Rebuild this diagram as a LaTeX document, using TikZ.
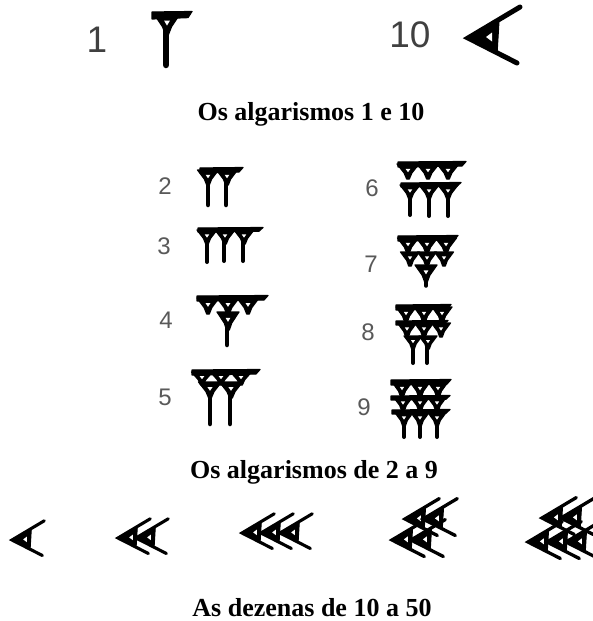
\documentclass[tikz,border=0pt]{standalone}
\usepackage{fontspec}
\setmainfont{Liberation Serif}
\newfontfamily\labfont{Liberation Sans}
\tikzset{ink/.style={fill=black,draw=black,line width=1.2pt,line join=round}}
% x y halfwidth depth
\newcommand\cwHead[4]{%
  \path[ink] (#1-#3,#2) -- (#1+#3,#2) -- (#1+0.35*#3,#2+0.6*#4) -- (#1+1.3,#2+#4) -- (#1-1.3,#2+#4) -- (#1-0.35*#3,#2+0.6*#4) -- cycle;
  \fill[white] (#1-0.22*#3,#2+0.32*#4) -- (#1+0.22*#3,#2+0.32*#4) -- (#1,#2+0.55*#4) -- cycle;}
% x1 x2 y thickness
\newcommand\cwBar[4]{%
  \path[ink] (#1,#3) -- (#2,#3-0.5) -- (#2-4,#3+0.8*#4) -- (#1,#3+#4) -- cycle;}
% x y1 y2 width
\newcommand\cwStem[4]{%
  \draw[line width=#4pt,line cap=round] (#1,#2) -- (#1,#3);}
% tip x, tip y, scale
\newcommand\cwTen[3]{%
  \begin{scope}[shift={(#1,#2)},scale=#3]
    \path[ink] (-2,0) -- (31,-18) -- (29,15) -- cycle;
    \fill[white] (18,-1) -- (24,-5.5) -- (24,3.5) -- cycle;
    \draw[line width=#3*5pt,line cap=round] (52,-31) -- (0,0) -- (49,25);
  \end{scope}}
\begin{document}
\begin{tikzpicture}[x=1pt,y=-1pt,
  bignum/.style={font=\labfont\fontsize{37}{37}\selectfont,text=black!75,inner sep=0pt},
  num/.style={font=\labfont\fontsize{24}{24}\selectfont,text=black!65,inner sep=0pt},
  title/.style={font=\bfseries\fontsize{26}{26}\selectfont,inner sep=0pt,anchor=base}]
\useasboundingbox (0,0) rectangle (592,621);
\fill[white] (0,0) rectangle (592,621);

% ---------- 1 and 10
\node[bignum] (n1) at (97,40) {1};
\cwBar{152}{192}{12}{7}
\cwHead{167}{14}{13}{21}
\cwStem{166}{30}{65}{6.5}

\node[bignum] (n10) at (410,35) {10};
\cwTen{468}{38}{1}

\node[title] (t1) at (311,120.5) {Os algarismos 1 e 10};

% ---------- 2
\node[num] (n2) at (165,186) {2};
\cwBar{200}{243}{168}{5}
\cwHead{208}{170}{10.5}{15}
\cwHead{227}{170}{10.5}{15}
\cwStem{208}{182}{205}{4.5}
\cwStem{226}{182}{205}{4.5}

% ---------- 3
\node[num] (n3) at (164,246) {3};
\cwBar{198}{263}{228}{4}
\cwHead{207}{230}{10}{14}
\cwHead{225}{230}{10}{14}
\cwHead{244}{230}{10}{14}
\cwStem{207}{241}{262}{4}
\cwStem{224}{241}{261}{4}
\cwStem{243}{241}{261}{4}

% ---------- 4
\node[num] (n4) at (166,320) {4};
\cwBar{197}{268}{296}{5}
\cwHead{208}{298}{11}{16}
\cwHead{228}{298}{11}{16}
\cwHead{248}{298}{11}{16}
\cwHead{228}{312}{11}{18}
\cwStem{227}{327}{345}{4.5}

% ---------- 5
\node[num] (n5) at (165,397) {5};
\cwBar{192}{260}{370}{5}
\cwHead{202}{372}{10.5}{13}
\cwHead{221}{372}{10.5}{13}
\cwHead{241}{372}{10.5}{13}
\cwHead{210}{382}{11.5}{16}
\cwHead{231}{382}{11.5}{16}
\cwStem{210}{395}{424}{4.5}
\cwStem{230}{395}{424}{4.5}

% ---------- 6
\node[num] (n6) at (372,188) {6};
\cwBar{398}{466}{162}{5}
\cwHead{408}{164}{11}{15}
\cwHead{428}{164}{11}{15}
\cwHead{448}{164}{11}{15}
\cwBar{401}{461}{183}{4}
\cwHead{410}{185}{10}{14}
\cwHead{429}{185}{10}{14}
\cwHead{448}{185}{10}{14}
\cwStem{410}{196}{215}{4}
\cwStem{429}{196}{216}{4}
\cwStem{448}{196}{216}{4}

% ---------- 7
\node[num] (n7) at (371,264) {7};
\cwBar{398}{458}{236}{5}
\cwHead{408}{238}{10.5}{15}
\cwHead{427}{238}{10.5}{15}
\cwHead{446}{238}{10.5}{15}
\cwHead{410}{252}{9.5}{14}
\cwHead{427}{252}{9.5}{14}
\cwHead{444}{252}{9.5}{14}
\cwHead{426}{265}{11}{17}
\cwStem{426}{279}{286}{3.5}

% ---------- 8
\node[num] (n8) at (368,332) {8};
\cwBar{396}{451}{305}{5}
\cwHead{406}{307}{10}{15}
\cwHead{424}{307}{10}{15}
\cwHead{442}{307}{10}{15}
\cwBar{396}{448}{321}{4}
\cwHead{407}{323}{9.5}{14}
\cwHead{424}{323}{9.5}{14}
\cwHead{441}{323}{9.5}{14}
\cwHead{413}{336}{9}{13}
\cwHead{428}{336}{9}{13}
\cwStem{413}{346}{363}{4}
\cwStem{427}{346}{363}{4}

% ---------- 9
\node[num] (n9) at (364,407) {9};
\cwBar{391}{451}{380}{5}
\cwHead{402}{382}{10}{15}
\cwHead{420}{382}{10}{15}
\cwHead{438}{382}{10}{15}
\cwBar{391}{450}{396}{4}
\cwHead{403}{397}{9.5}{14}
\cwHead{420}{397}{9.5}{14}
\cwHead{437}{397}{9.5}{14}
\cwBar{392}{450}{410}{4}
\cwHead{404}{412}{9.5}{14}
\cwHead{420}{412}{9.5}{14}
\cwHead{437}{412}{9.5}{14}
\cwStem{404}{423}{437}{4}
\cwStem{420}{423}{437}{4}
\cwStem{437}{423}{437}{4}

\node[title] (t2) at (314,478.5) {Os algarismos de 2 a 9};

% ---------- tens
\cwTen{12}{540}{0.62}
\cwTen{118}{538}{0.62}
\cwTen{136}{538}{0.62}
\cwTen{242}{533}{0.62}
\cwTen{261}{533}{0.62}
\cwTen{280}{533}{0.62}
% 40
\cwTen{392}{540}{0.66}
\cwTen{411}{540}{0.66}
\cwTen{405}{519}{0.66}
\cwTen{423}{519}{0.66}
% 50
\cwTen{528}{542}{0.66}
\cwTen{547}{542}{0.66}
\cwTen{566}{542}{0.66}
\cwTen{542}{518}{0.66}
\cwTen{561}{518}{0.66}

\node[title] (t3) at (312,616.5) {As dezenas de 10 a 50};
\end{tikzpicture}
\end{document}
